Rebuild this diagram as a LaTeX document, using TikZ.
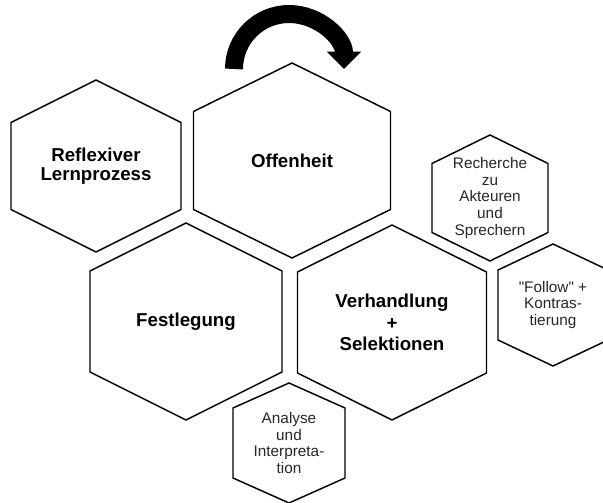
\documentclass[tikz,border=0pt]{standalone}
\usepackage{fontspec}
\setmainfont{Liberation Sans}
\usetikzlibrary{arrows.meta}

\newcommand{\hexcell}[4]{%
  \draw[hexline, shift={(#1.center)}] (0,#3) -- (#2,#4) -- (#2,-#4) -- (0,-#3) -- (-#2,-#4) -- (-#2,#4) -- cycle;
}

\begin{document}
\begin{tikzpicture}[x=0.75pt, y=0.75pt,
    hexline/.style={line width=1.1pt},
    bigtext/.style={align=center, font=\bfseries\fontsize{14}{14.5}\selectfont},
    smalltext/.style={align=center, text=black!85, font=\fontsize{11.5}{12.5}\selectfont}]
    \clip (0,0) rectangle (603,503);
    \node[bigtext] (refl) at (96,337) {Reflexiver\\Lernprozess};
    \node[bigtext] (offen) at (292,342.5) {Offenheit};
    \node[smalltext] (recherche) at (490,305) {Recherche\\zu\\Akteuren\\und\\Sprechern};
    \node[bigtext] (festl) at (186,181.5) {Festlegung};
    \node[bigtext, font=\bfseries\fontsize{14}{16}\selectfont] (verh) at (392,180.5) {Verhandlung\\+\\Selektionen};
    \node[smalltext] (follow) at (553,198) {\textquotedbl Follow\textquotedbl{} +\\Kontras-\\tierung};
    \node[smalltext] (analyse) at (289,60) {Analyse\\und\\Interpreta-\\tion};
    \hexcell{refl}{85}{86}{43.5}
    \hexcell{offen}{98.5}{97.5}{49}
    \hexcell{recherche}{58}{63}{34.5}
    \hexcell{festl}{96}{98.5}{50.5}
    \hexcell{verh}{94.5}{97.5}{50.5}
    \hexcell{follow}{55}{61}{35}
    \hexcell{analyse}{56}{60}{35}
    \coordinate (turnstart) at (234,434);
    \draw[line width=13.5pt, -{Triangle[width=25pt, length=13pt]}] (turnstart) arc[start angle=180, end angle=0, radius=55];
\end{tikzpicture}
\end{document}
